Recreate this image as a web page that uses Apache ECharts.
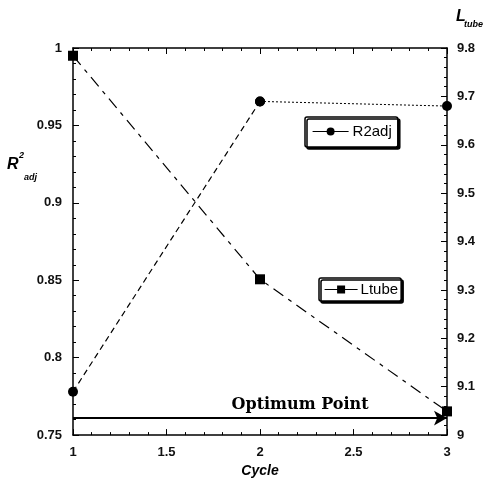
<!DOCTYPE html>
<html>
<head>
<meta charset="utf-8">
<script src="https://cdn.jsdelivr.net/npm/echarts@6/dist/echarts.min.js"></script>
<style>
html,body{margin:0;padding:0;background:#fff;}
#chart{width:489px;height:483px;}
</style>
</head>
<body>
<div id="chart"></div>
<script>
// ---- data ----
const cycles = [1, 2, 3];
const r2adj = [0.778, 0.9655, 0.9625];
const ltube = [9.784, 9.322, 9.049];
const optimumLevel = 0.761;
const optimumRange = [1, 3];
const optimumLabelAt = 2.214;
const seriesNames = ['R2adj', 'Ltube'];

const pairs = (xs, ys) => xs.map((x, i) => [x, ys[i]]);
const r2Pairs = pairs(cycles, r2adj);
const ltPairs = pairs(cycles, ltube);

const FONT = 'Liberation Sans, Arial, sans-serif';
const chart = echarts.init(document.getElementById('chart'));

const tickLabel = {fontFamily: FONT, fontSize: 13, fontWeight: 'bold', color: '#111'};

chart.setOption({
  backgroundColor: '#fff',
  animation: false,
  grid: {left: 73, right: 42, top: 48, bottom: 42},
  xAxis: [{
    type: 'value', min: 1, max: 3, interval: 0.5,
    position: 'bottom',
    axisLine: {show: true, lineStyle: {color: '#000', width: 1.5}},
    axisTick: {show: true, inside: true, length: 6, lineStyle: {color: '#000', width: 1}},
    minorTick: {show: true, splitNumber: 5, length: 3, lineStyle: {color: '#000'}},
    splitLine: {show: false},
    axisLabel: Object.assign({margin: 11}, tickLabel),
    name: 'Cycle', nameLocation: 'middle', nameGap: 27,
    nameTextStyle: {fontFamily: FONT, fontSize: 14, fontWeight: 'bold', fontStyle: 'italic', color: '#000'}
  }, {
    type: 'value', min: 1, max: 3, interval: 0.5,
    position: 'top',
    axisLine: {show: true, lineStyle: {color: '#000', width: 1.5}},
    axisTick: {show: true, inside: true, length: 6, lineStyle: {color: '#000', width: 1}},
    minorTick: {show: true, splitNumber: 5, length: 3, lineStyle: {color: '#000'}},
    splitLine: {show: false},
    axisLabel: {show: false}
  }],
  yAxis: [{
    type: 'value', min: 0.75, max: 1, interval: 0.05,
    position: 'left',
    axisLine: {show: true, lineStyle: {color: '#000', width: 1.5}},
    axisTick: {show: true, inside: true, length: 6, lineStyle: {color: '#000', width: 1}},
    minorTick: {show: true, splitNumber: 5, length: 3, lineStyle: {color: '#000'}},
    splitLine: {show: false},
    axisLabel: Object.assign({margin: 11}, tickLabel)
  }, {
    type: 'value', min: 9, max: 9.8, interval: 0.1,
    position: 'right',
    axisLine: {show: true, lineStyle: {color: '#000', width: 1.5}},
    axisTick: {show: true, inside: true, length: 6, lineStyle: {color: '#000', width: 1}},
    minorTick: {show: true, splitNumber: 5, length: 3, lineStyle: {color: '#000'}},
    splitLine: {show: false},
    axisLabel: Object.assign({margin: 10}, tickLabel)
  }],
  legend: [{
    data: [seriesNames[0]],
    left: 305, top: 117,
    orient: 'vertical',
    backgroundColor: '#fff',
    borderColor: '#000', borderWidth: 1.5, borderRadius: 2,
    shadowColor: '#000', shadowBlur: 0, shadowOffsetX: 2, shadowOffsetY: 2,
    padding: [7, 6, 8, 7],
    itemWidth: 36, itemHeight: 10, itemGap: 0,
    lineStyle: {type: 'solid', width: 1.2},
    textStyle: {fontFamily: FONT, fontSize: 15, color: '#000', padding: [0, 0, 0, -1]}
  }, {
    data: [seriesNames[1]],
    left: 319, top: 278,
    orient: 'vertical',
    backgroundColor: '#fff',
    borderColor: '#000', borderWidth: 1.5, borderRadius: 2,
    shadowColor: '#000', shadowBlur: 0, shadowOffsetX: 2, shadowOffsetY: 2,
    padding: [4, 3, 4, 5],
    itemWidth: 33, itemHeight: 10, itemGap: 0,
    lineStyle: {type: 'solid', width: 1.2},
    textStyle: {fontFamily: FONT, fontSize: 15, color: '#000', padding: [0, 0, 0, -2]}
  }],
  series: [{
    name: seriesNames[0], type: 'line',
    xAxisIndex: 0, yAxisIndex: 0,
    data: r2Pairs.slice(0, 2),
    symbol: 'circle', symbolSize: 10,
    itemStyle: {color: '#000'},
    lineStyle: {color: '#000', width: 1.2, type: [6, 4]},
    markLine: {
      silent: true,
      symbol: ['none', 'arrow'], symbolSize: [11, 13],
      lineStyle: {color: '#000', width: 2, type: 'solid'},
      label: {show: false},
      data: [[{coord: [optimumRange[0], optimumLevel]}, {coord: [optimumRange[1], optimumLevel]}]]
    },
    markPoint: {
      silent: true,
      symbol: 'circle', symbolSize: 0,
      data: [{coord: [optimumLabelAt, optimumLevel], value: 'Optimum Point'}],
      label: {
        show: true, position: 'top', distance: 5,
        formatter: 'Optimum Point',
        fontFamily: 'DejaVu Serif, serif', fontWeight: 'bold', fontSize: 16, color: '#000'
      }
    }
  }, {
    name: seriesNames[0], type: 'line',
    xAxisIndex: 0, yAxisIndex: 0,
    data: r2Pairs.slice(1, 3),
    symbol: 'circle', symbolSize: 10,
    itemStyle: {color: '#000'},
    lineStyle: {color: '#000', width: 1, type: [2, 2]}
  }, {
    name: seriesNames[1], type: 'line',
    xAxisIndex: 0, yAxisIndex: 1,
    data: ltPairs,
    symbol: 'rect', symbolSize: 10,
    itemStyle: {color: '#000'},
    lineStyle: {color: '#000', width: 1.2, type: [12, 6, 4, 6]}
  }],
  graphic: [
    {type: 'text', left: 7, top: 157, style: {text: 'R', font: 'italic bold 16px ' + FONT, fill: '#000'}},
    {type: 'text', left: 19, top: 151, style: {text: '2', font: 'italic bold 9px ' + FONT, fill: '#000'}},
    {type: 'text', left: 24, top: 173, style: {text: 'adj', font: 'italic bold 9px ' + FONT, fill: '#000'}},
    {type: 'text', left: 456, top: 9, style: {text: 'L', font: 'italic bold 16px ' + FONT, fill: '#000'}},
    {type: 'text', left: 464, top: 20, style: {text: 'tube', font: 'italic bold 9px ' + FONT, fill: '#000'}}
  ]
});
</script>
</body>
</html>
